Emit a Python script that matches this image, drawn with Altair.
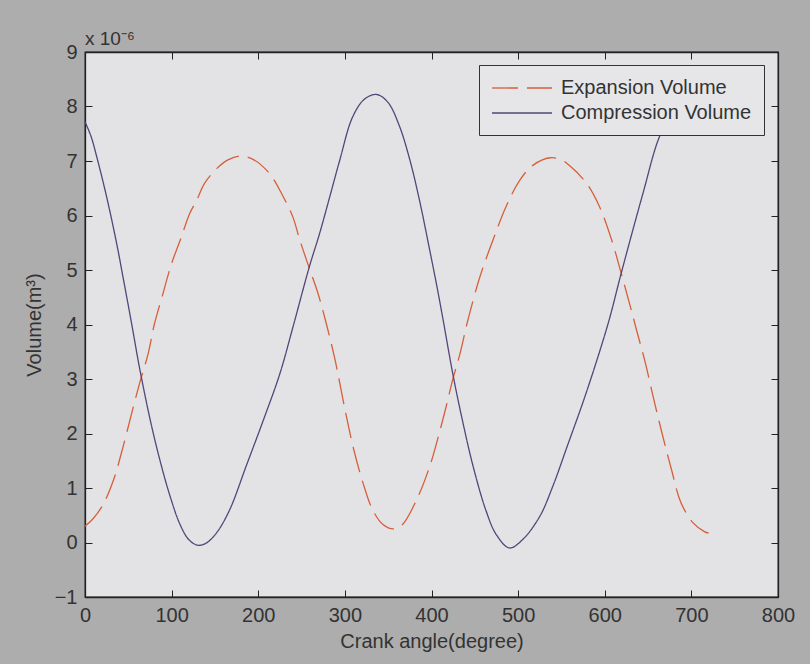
import altair as alt
import pandas as pd

# ---- data ----
series_names = ["Expansion Volume", "Compression Volume"]

exp_angle = [0, 10, 21, 33, 44, 54, 63, 73, 80, 89, 100, 110, 121, 129, 138, 152, 165, 179,
             194, 213, 229, 240, 248, 259, 269, 278, 288, 300, 310, 321, 332, 344, 356, 366,
             383, 398, 410, 417, 425, 433, 442, 456, 471, 486, 502, 517, 537, 550, 559, 579,
             594, 608, 619, 630, 637, 646, 657, 667, 677, 688, 702, 715, 720]
exp_vol = [0.30, 0.45, 0.70, 1.15, 1.76, 2.38, 2.92, 3.47, 4.00, 4.51, 5.12, 5.55, 6.04, 6.28,
           6.59, 6.86, 7.02, 7.09, 7.03, 6.77, 6.34, 5.97, 5.55, 5.03, 4.57, 4.05, 3.40, 2.45,
           1.72, 1.09, 0.60, 0.33, 0.25, 0.32, 0.79, 1.40, 2.07, 2.50, 3.02, 3.47, 4.08, 4.88,
           5.55, 6.16, 6.65, 6.92, 7.06, 7.02, 6.92, 6.59, 6.16, 5.55, 4.94, 4.30, 3.88, 3.35,
           2.60, 1.95, 1.34, 0.73, 0.36, 0.20, 0.17]

comp_angle = [0, 7, 13.5, 25, 37, 44, 54, 63, 75, 86, 98, 110, 120, 130, 140, 152, 167, 186,
              206, 225, 240, 259, 271, 283, 294, 309, 323, 337, 350, 363, 375, 386, 398, 406,
              413, 425, 436, 448, 463, 475, 490, 505, 525, 540, 557, 575, 590, 605, 619, 644,
              663, 680, 700, 720]
comp_vol = [7.72, 7.45, 7.08, 6.34, 5.45, 4.86, 4.00, 3.20, 2.27, 1.54, 0.86, 0.32, 0.05, -0.05,
            -0.01, 0.18, 0.60, 1.40, 2.25, 3.10, 3.95, 5.06, 5.68, 6.37, 7.01, 7.81, 8.14, 8.22,
            8.07, 7.64, 7.02, 6.29, 5.36, 4.72, 4.12, 3.06, 2.22, 1.40, 0.58, 0.14, -0.10, 0.05,
            0.48, 1.03, 1.78, 2.58, 3.30, 4.08, 4.94, 6.40, 7.44, 7.95, 8.20, 8.10]

x_ticks = [0, 100, 200, 300, 400, 500, 600, 700, 800]
y_ticks = [-1, 0, 1, 2, 3, 4, 5, 6, 7, 8, 9]

df = pd.concat([
    pd.DataFrame({"angle": exp_angle, "volume": exp_vol, "series": series_names[0]}),
    pd.DataFrame({"angle": comp_angle, "volume": comp_vol, "series": series_names[1]}),
], ignore_index=True)

FONT = "Liberation Sans"
TXT = "#333333"
TICK = {"expr": "-7"}

x_scale = alt.Scale(domain=[0, 800], nice=False, zero=False)
y_scale = alt.Scale(domain=[-1, 9], nice=False, zero=False)

base = alt.Chart(df)

lines = base.mark_line(strokeWidth=1.3, interpolate="catmull-rom").encode(
    x=alt.X("angle:Q", scale=x_scale,
            axis=alt.Axis(values=x_ticks, orient="bottom", title="Crank angle(degree)",
                          tickSize=TICK, labelPadding=15, tickColor="#222", domainColor="#222",
                          domainWidth=1.3, labelFontSize=20, labelFont=FONT, labelColor=TXT,
                          titleFont=FONT, titleFontSize=20, titleFontWeight="normal",
                          titleColor=TXT, titlePadding=6, grid=False, labelFlush=False)),
    y=alt.Y("volume:Q", scale=y_scale,
            axis=alt.Axis(values=y_ticks, orient="left", title="Volume(m³)",
                          tickSize=TICK, labelPadding=15, tickColor="#222", domainColor="#222",
                          domainWidth=1.3, labelFontSize=20, labelFont=FONT, labelColor=TXT,
                          titleFont=FONT, titleFontSize=20, titleFontWeight="normal",
                          titleColor=TXT, titlePadding=10, grid=False, labelFlush=False)),
    color=alt.Color("series:N",
                    scale=alt.Scale(domain=series_names, range=["#d65f3a", "#54457a"]),
                    legend=alt.Legend(title=None, orient="none", legendX=394, legendY=13,
                                      fillColor="#e6e6e8", strokeColor="#333333",
                                      padding=12, labelFont=FONT, labelFontSize=20,
                                      labelColor=TXT, labelLimit=400,
                                      symbolType="M-3,0L3,0", symbolSize=400,
                                      symbolOffset=20, symbolStrokeWidth=1.3,
                                      rowPadding=4, labelOffset=28)),
    strokeDash=alt.StrokeDash("series:N",
                              scale=alt.Scale(domain=series_names, range=[[26, 9], [1, 0]]),
                              legend=None),
)

frame = base.mark_line(opacity=0).encode(
    x=alt.X("angle:Q", scale=x_scale,
            axis=alt.Axis(values=x_ticks, orient="top", title=None, labels=False,
                          tickSize=TICK, tickColor="#222", domainColor="#222",
                          domainWidth=1.3, grid=False)),
    y=alt.Y("volume:Q", scale=y_scale,
            axis=alt.Axis(values=y_ticks, orient="right", title=None, labels=False,
                          tickSize=TICK, tickColor="#222", domainColor="#222",
                          domainWidth=1.3, grid=False)),
    detail="series:N",
)

chart = alt.layer(lines, frame).resolve_axis(
    x="independent", y="independent"
).properties(
    width=693,
    height=545,
    title=alt.TitleParams(text="x 10⁻⁶", anchor="start", frame="group", font=FONT,
                          fontSize=19, fontWeight="normal", color=TXT, offset=8, dy=15),
    autosize=alt.AutoSizeParams(type="none"),
    padding={"left": 85, "top": 52, "right": 32, "bottom": 67},
    background="#adadad",
).configure_view(
    fill="#e3e3e5", stroke="#222222", strokeWidth=1.3
)

chart.save("out.html", embed_options={"renderer": "svg", "actions": False})
